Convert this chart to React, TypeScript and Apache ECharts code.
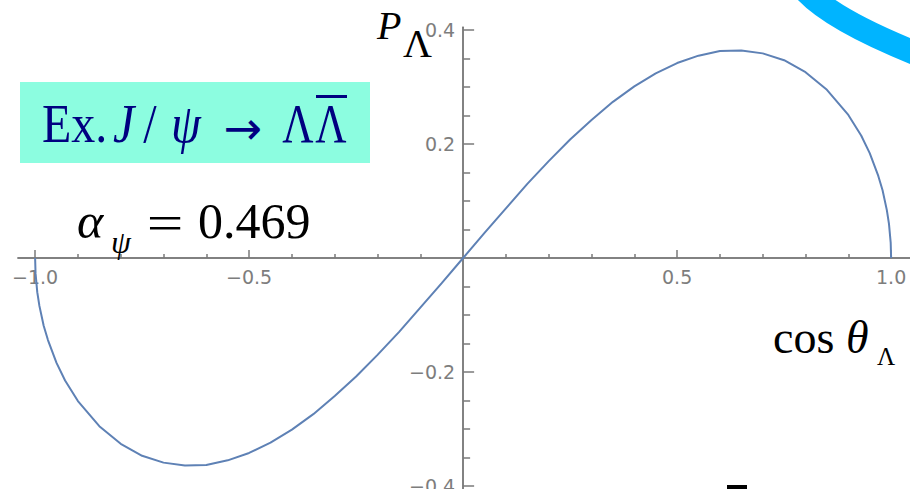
import { useEffect, useRef } from "react";
import * as echarts from "echarts";

// cos(theta_Lambda) sample points and the polarization P_Lambda along the curve
const cosTheta = [
  -1, -0.999, -0.995, -0.99, -0.98, -0.97, -0.95, -0.93, -0.9, -0.85, -0.8, -0.75, -0.7, -0.65,
  -0.6, -0.55, -0.5, -0.45, -0.4, -0.35, -0.3, -0.25, -0.2, -0.15, -0.1, -0.05, 0, 0.05, 0.1,
  0.15, 0.2, 0.25, 0.3, 0.35, 0.4, 0.45, 0.5, 0.55, 0.6, 0.65, 0.7, 0.75, 0.8, 0.85, 0.9, 0.93,
  0.95, 0.97, 0.98, 0.99, 0.995, 0.999, 1,
];
const polarization = [
  0, -0.027, -0.06, -0.084, -0.119, -0.144, -0.184, -0.215, -0.251, -0.295, -0.326, -0.347,
  -0.359, -0.364, -0.363, -0.355, -0.342, -0.324, -0.301, -0.274, -0.242, -0.208, -0.17, -0.13,
  -0.087, -0.044, 0, 0.044, 0.087, 0.13, 0.17, 0.208, 0.242, 0.274, 0.301, 0.324, 0.342, 0.355,
  0.363, 0.364, 0.359, 0.347, 0.326, 0.295, 0.251, 0.215, 0.184, 0.144, 0.119, 0.084, 0.06,
  0.027, 0,
];

// axis ticks and labels
const xMajorTicks = [-1, -0.5, 0.5, 1];
const xMinorTicks = [
  -0.9, -0.8, -0.7, -0.6, -0.4, -0.3, -0.2, -0.1, 0.1, 0.2, 0.3, 0.4, 0.6, 0.7, 0.8, 0.9,
];
const yMajorTicks = [-0.4, -0.2, 0.2, 0.4];
const yMinorTicks = [
  -0.35, -0.3, -0.25, -0.15, -0.1, -0.05, 0.05, 0.1, 0.15, 0.25, 0.3, 0.35,
];

const X_MIN = -1.04;
const X_MAX = 1.06;
const Y_MIN = -0.42;
const Y_MAX = 0.405;

const GRID_LEFT = 18;
const GRID_TOP = 27.15;
const GRID_W = 898.8;
const GRID_H = 470.25;

// Axes cross at the origin: shift each axis from its grid edge to the zero line
const X_AXIS_OFFSET = -(GRID_H * (0 - Y_MIN)) / (Y_MAX - Y_MIN);
const Y_AXIS_OFFSET = -(GRID_W * (0 - X_MIN)) / (X_MAX - X_MIN);

const AXIS_GRAY = "#7a7a7a";
const LABEL_GRAY = "#7d7d7d";
const CURVE_BLUE = "#5e81b5";
const NAVY = "#000080";
const SERIF = "'Liberation Serif', 'DejaVu Serif', serif";

const fmt = (v: number) => v.toFixed(1).replace("-", "\u2212");

function txt(
  text: string,
  x: number,
  y: number,
  size: number,
  opts: {
    italic?: boolean;
    align?: string;
    fill?: string;
    scaleY?: number;
    scaleX?: number;
    family?: string;
  } = {}
) {
  return {
    type: "text",
    x,
    y,
    scaleX: opts.scaleX ?? 1,
    scaleY: opts.scaleY ?? 1,
    z: 100,
    style: {
      text,
      fill: opts.fill ?? "#000",
      font: `${opts.italic ? "italic " : ""}${size}px ${opts.family ?? SERIF}`,
      textAlign: opts.align ?? "left",
      textVerticalAlign: "middle",
    },
  };
}

export default function App() {
  const ref = useRef<HTMLDivElement>(null);

  useEffect(() => {
    if (!ref.current) return;
    const chart = echarts.init(ref.current, undefined, { renderer: "svg" });

    const lineStyle = { color: AXIS_GRAY, width: 1.5 };
    const xBase = {
      type: "value",
      min: X_MIN,
      max: X_MAX,
      position: "bottom",
      offset: X_AXIS_OFFSET,
      splitLine: { show: false },
      axisLine: { onZero: false, lineStyle },
    };
    const yBase = {
      type: "value",
      min: Y_MIN,
      max: Y_MAX,
      position: "left",
      offset: Y_AXIS_OFFSET,
      splitLine: { show: false },
      axisLine: { onZero: false, lineStyle },
    };
    const labelStyle = {
      formatter: fmt,
      color: LABEL_GRAY,
      fontSize: 19,
      fontFamily: "'DejaVu Sans', sans-serif",
    };

    chart.setOption({
      animation: false,
      backgroundColor: "#fff",
      grid: {
        left: GRID_LEFT,
        top: GRID_TOP,
        width: GRID_W,
        height: GRID_H,
        containLabel: false,
        outerBoundsMode: "none",
      },
      xAxis: [
        {
          ...xBase,
          axisTick: { show: true, inside: true, length: 8, customValues: xMajorTicks, lineStyle },
          axisLabel: { ...labelStyle, customValues: xMajorTicks, margin: 9 },
        },
        {
          ...xBase,
          axisTick: { show: true, inside: true, length: 4, customValues: xMinorTicks, lineStyle },
          axisLabel: { show: false },
        },
      ],
      yAxis: [
        {
          ...yBase,
          axisTick: { show: true, inside: true, length: 11, customValues: yMajorTicks, lineStyle },
          axisLabel: { ...labelStyle, customValues: yMajorTicks, margin: 8 },
        },
        {
          ...yBase,
          axisTick: { show: true, inside: true, length: 7, customValues: yMinorTicks, lineStyle },
          axisLabel: { show: false },
        },
      ],
      series: [
        {
          type: "line",
          xAxisIndex: 0,
          yAxisIndex: 0,
          data: cosTheta.map((c, i) => [c, polarization[i]]),
          showSymbol: false,
          smooth: false,
          lineStyle: { color: CURVE_BLUE, width: 2 },
          z: 5,
        },
      ],
      graphic: [
        // decay-channel box
        {
          type: "rect",
          z: 90,
          shape: { x: 20, y: 82, width: 350, height: 81 },
          style: { fill: "#8cfde0" },
        },
        txt("Ex.", 42, 123.5, 48, { fill: NAVY, scaleY: 1.16 }),
        txt("J", 113, 123.5, 48, { fill: NAVY, italic: true, scaleY: 1.16 }),
        txt("/", 150, 123.5, 48, { fill: NAVY, align: "center", scaleY: 1.16 }),
        txt("\u03c8", 186, 123.5, 48, { fill: NAVY, italic: true, align: "center", scaleY: 1.16 }),
        txt("\u2192", 243, 128, 46, {
          fill: NAVY,
          align: "center",
          family: "'DejaVu Sans', sans-serif",
        }),
        txt("\u039b", 298, 123.5, 48, { fill: NAVY, align: "center", scaleX: 0.9, scaleY: 1.16 }),
        txt("\u039b", 331, 123.5, 48, { fill: NAVY, align: "center", scaleX: 0.9, scaleY: 1.16 }),
        {
          type: "rect",
          z: 100,
          shape: { x: 316, y: 95, width: 31, height: 3 },
          style: { fill: NAVY },
        },

        // alpha parameter
        txt("\u03b1", 77, 221, 50, { italic: true }),
        txt("\u03c8", 121, 242, 32, { italic: true, align: "center" }),
        txt("=", 165, 223, 50, { align: "center", scaleX: 1.3 }),
        txt("0.469", 198, 221, 50),

        // axis titles
        txt("P", 377, 25.5, 40, { italic: true }),
        txt("\u039b", 403, 43.5, 40),
        txt("cos", 773, 337.5, 46),
        txt("\u03b8", 846, 337.5, 46, { italic: true }),
        txt("\u039b", 877, 356.5, 25),

        // decorative stroke in the corner
        {
          type: "bezierCurve",
          z: 100,
          shape: { x1: 805, y1: -10, cpx1: 832, cpy1: 20, x2: 920, y2: 55 },
          style: { stroke: "#00b4ff", lineWidth: 24, fill: null },
        },
        {
          type: "rect",
          z: 100,
          shape: { x: 727, y: 485, width: 20, height: 4 },
          style: { fill: "#000" },
        },
      ],
    });

    return () => chart.dispose();
  }, []);

  return (
    <div
      ref={ref}
      style={{ position: "absolute", left: 0, top: 0, width: 910, height: 489, background: "#fff" }}
    />
  );
}
